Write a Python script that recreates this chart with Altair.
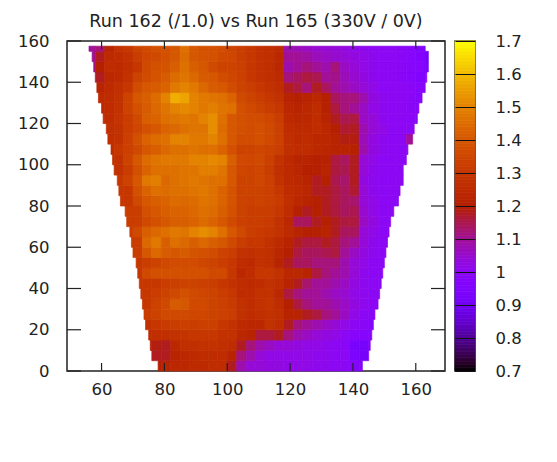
import math
import altair as alt
import pandas as pd

TITLE = "Run 162 (/1.0) vs Run 165 (330V / 0V)"
x_ticks = [60, 80, 100, 120, 140, 160]
y_ticks = [0, 20, 40, 60, 80, 100, 120, 140, 160]
cb_ticks = [0.7, 0.8, 0.9, 1.0, 1.1, 1.2, 1.3, 1.4, 1.5, 1.6, 1.7]
x_start, x_step = 55, 3
y_step = 5
y_top = 157.5

# Detector outline, one entry per row from the bottom (y = 0, 5, ...)
left_edge = [78, 76, 75.5, 75, 74, 73.5, 73, 72.5, 72, 71.5, 71, 70, 69.5, 69, 68, 67.5,
             66, 65.5, 65, 64, 63.5, 63, 62, 61.5, 60.5, 60, 59, 58.5, 58, 57.5, 57, 56]
right_edge = [143, 145, 145.5, 146, 146.5, 147, 148, 148.5, 149, 149.5, 150, 150.5, 151, 151.5, 152, 153,
              154.5, 155, 156, 156, 157, 157.5, 159, 159.5, 160.5, 161, 162, 163, 163.5, 164, 164, 163]

# Ratio values x100, columns x = 55, 58, ... 166; rows listed from the bottom up
row_000 = [120,120,120,120,120,120,120,120,122,124,124,125,125,126,126,118,108,104,104,103,103,102,102,102,101,101,100,100, 98, 96, 96, 96,96,96,96,96,96,96]
row_005 = [120,120,120,120,120,120,120,118,118,122,124,125,126,126,126,122,112,108,104,102,102,102,102,102,101,101,100,100, 94, 92, 96, 96,96,96,96,96,96,96]
row_010 = [120,120,120,120,120,120,120,119,118,124,127,127,128,128,127,126,118,112,108,106,104,104,103,102,102,101,100, 99, 93, 92, 96, 96,96,96,96,96,96,96]
row_015 = [126,126,126,126,126,126,126,127,127,128,129,130,130,130,128,128,124,122,116,116,118,112,108,106,104,103,102,100, 98, 97, 98, 98,98,98,98,98,98,98]
row_020 = [128,128,128,128,128,128,128,130,131,132,133,132,133,133,130,128,125,124,124,128,126,118,112,110,108,106,104,102,100, 99, 98, 98,98,98,98,98,98,98]
row_025 = [130,130,130,130,130,130,132,134,136,136,136,135,135,134,133,132,128,126,127,128,127,122,122,118,116,112,110,106,102,100, 99, 99,99,99,99,99,99,99]
row_030 = [130,130,130,130,130,130,130,134,136,141,140,136,136,134,133,131,128,126,128,129,126,120,116,112,110,110,108,106,103,101,100, 99,99,99,99,99,99,99]
row_035 = [130,130,130,130,130,130,130,132,134,136,138,136,135,134,132,130,126,126,128,128,124,116,112,110,110,108,106,105,102,101,100, 99,99,99,99,99,99,99]
row_040 = [130,130,130,130,130,130,130,130,132,133,134,134,133,132,130,128,126,125,126,128,126,122,118,113,110,110,108,106,103,101,100,100,100,100,100,100,100,100]
row_045 = [130,130,130,130,130,130,136,138,138,138,138,138,138,136,136,130,124,126,130,130,128,124,124,122,116,112,110,108,104,101,100,100,100,100,100,100,100,100]
row_050 = [130,130,130,130,130,130,132,134,136,137,137,137,135,134,132,130,126,125,128,127,122,118,114,114,112,112,112,108,104,102,100,100,100,100,100,100,100,100]
row_055 = [132,132,132,132,132,132,140,144,141,140,141,139,138,137,134,132,128,127,128,127,123,120,116,114,114,115,116,110,106,103,101,100,100,100,100,100,100,100]
row_060 = [132,132,132,132,132,132,144,148,142,146,144,142,144,142,140,136,132,130,130,128,125,122,118,116,116,118,116,112,110,104,101,100,100,100,100,100,100,100]
row_065 = [132,132,132,132,132,136,142,144,146,148,147,150,152,150,146,140,136,132,131,130,128,125,122,120,120,122,118,114,114,104,102,100,100,100,100,100,100,100]
row_070 = [132,132,132,132,132,132,136,138,140,142,142,143,145,143,140,136,133,132,132,131,128,124,114,114,118,120,118,116,116,106,103,100,100,100,100,100,100,100]
row_075 = [132,132,132,132,132,132,138,140,142,143,143,144,146,145,142,138,134,132,132,132,130,126,120,118,120,118,116,114,115,105,102,100,100,100,100,100,100,100]
row_080 = [130,130,130,130,130,136,140,142,143,145,144,145,147,146,143,139,134,133,134,133,131,127,124,122,120,118,116,114,113,104,102,100,100,100,100,100,100,100]
row_085 = [130,130,130,130,130,138,143,146,145,146,146,147,148,146,143,139,134,134,134,133,130,126,125,123,118,118,116,114,117,104,101,100,100,100,100,100,100,100]
row_090 = [130,130,130,130,134,140,148,149,144,146,147,148,147,146,146,140,134,134,135,133,128,125,124,122,118,120,115,113,118,103,101,100,100,100,100,110,100,100]
row_095 = [128,128,128,128,132,138,143,146,146,146,147,147,149,149,147,140,135,134,135,132,127,125,123,120,120,122,116,115,118,104,101,100,100,100,100,110,100,100]
row_100 = [128,128,128,128,134,140,145,147,148,148,148,150,150,151,150,142,136,135,136,133,128,125,122,122,120,121,116,114,118,104,102,100,100,100,100,100,100,100]
row_105 = [126,126,126,130,133,136,140,142,144,146,146,147,146,146,143,138,134,134,135,134,132,127,126,126,124,123,122,122,121,108,103,101,100,100, 99,100,100,100]
row_110 = [126,126,127,128,133,138,143,145,146,150,150,148,148,150,146,140,137,137,138,136,133,127,125,126,124,124,122,119,119,107,103,101,100,100,110,100,96,90]
row_115 = [125,126,127,128,132,135,138,140,143,144,146,147,147,152,145,140,138,137,138,136,133,126,125,125,126,124,120,117,118,108,104,102,100,100,100,100,96,90]
row_120 = [125,125,126,129,132,136,142,143,146,147,148,147,150,152,146,140,138,137,137,135,132,125,123,124,126,122,118,115,116,106,104,101,100,100, 99, 99,96,90]
row_125 = [124,125,126,128,134,138,141,144,147,150,151,150,148,149,147,146,138,136,134,132,130,124,122,124,126,121,116,112,110,106,102,101,100,100, 99, 99,96,90]
row_130 = [124,125,126,128,134,140,142,145,150,158,156,150,148,147,146,143,136,134,132,130,128,122,120,122,124,120,114,112,112,108,103,101,100,100, 99, 98,96,90]
row_135 = [120,122,125,127,130,137,140,141,143,148,150,148,144,141,140,137,134,132,130,128,126,118,116,112,118,114,110,108,106,104,102,100,100,100, 99, 98,96,90]
row_140 = [110,118,124,125,128,134,137,139,141,145,147,144,141,140,137,135,133,130,128,127,125,112,114,116,115,110,111,107,105,103,101,100,100, 99, 98, 96,95,90]
row_145 = [110,120,126,125,127,130,136,138,139,142,146,142,140,136,134,134,133,130,128,127,124,108,110,112,110,108,112,106,104,102,101,100,100, 99, 98, 97,92,90]
row_150 = [110,118,125,126,128,132,135,136,138,140,145,140,139,138,136,135,132,130,128,127,124,110,110,109,107,106,105,104,103,102,101,100,100, 99, 98, 96,91,90]
row_155 = [110,112,122,128,130,134,136,138,138,140,146,140,138,138,137,134,132,130,128,127,125,108,107,106,105,104,104,103,102,101,100,100,100, 99, 98, 96,92,90]

rows = [row_000, row_005, row_010, row_015, row_020, row_025, row_030, row_035,
        row_040, row_045, row_050, row_055, row_060, row_065, row_070, row_075,
        row_080, row_085, row_090, row_095, row_100, row_105, row_110, row_115,
        row_120, row_125, row_130, row_135, row_140, row_145, row_150, row_155]

records = []
for j, row in enumerate(rows):
    y0 = j * y_step
    y1 = min(y0 + y_step, y_top)
    for i, v in enumerate(row):
        c0 = x_start + i * x_step
        a = max(c0, left_edge[j])
        b = min(c0 + x_step, right_edge[j])
        if b > a:
            records.append(dict(x0=a, x1=b, y0=y0, y1=y1, v=v / 100))
df = pd.DataFrame(records)


def hexcol(t):
    r = math.sqrt(t)
    g = t ** 3
    b = max(0.0, math.sin(2 * math.pi * t))
    return "#%02x%02x%02x" % (round(r * 255), round(g * 255), round(b * 255))


stops = [i / 40 for i in range(41)]
cscale = alt.Scale(domain=[0.7 + s for s in stops], range=[hexcol(s) for s in stops],
                   interpolate="rgb", clamp=True)
color = alt.Color("v:Q", legend=None, scale=cscale)
stroke = alt.Stroke("v:Q", legend=None, scale=cscale)
FONT = "DejaVu Sans"
LABEL = 16.5
W, H = 378, 330
xs = alt.Scale(domain=[49, 169.3], nice=False, zero=False)
ys = alt.Scale(domain=[0, 160], nice=False, zero=False)
TICK = "#222222"

heat = alt.Chart(df).mark_rect(strokeWidth=0.7).encode(
    x=alt.X("x0:Q", scale=xs, title=None,
            axis=alt.Axis(values=x_ticks, tickSize=0, grid=False, domain=False, labelFont=FONT,
                          labelFontSize=LABEL, labelColor="#222222", labelPadding=10, labelFlush=False)),
    x2="x1:Q",
    y=alt.Y("y0:Q", scale=ys, title=None,
            axis=alt.Axis(values=y_ticks, tickSize=0, grid=False, domain=False, labelFont=FONT,
                          labelFontSize=LABEL, labelColor="#222222", labelPadding=18)),
    y2="y1:Q",
    color=color,
    stroke=stroke,
)
xt = pd.DataFrame({"x": x_ticks})
yt = pd.DataFrame({"y": y_ticks})
tb = alt.Chart(xt).mark_rule(color=TICK, strokeWidth=1.2).encode(
    x=alt.X("x:Q", scale=xs), y=alt.value(H), y2=alt.value(H - 8))
tt = alt.Chart(xt).mark_rule(color=TICK, strokeWidth=1.2).encode(
    x=alt.X("x:Q", scale=xs), y=alt.value(0), y2=alt.value(8))
tl = alt.Chart(yt).mark_rule(color=TICK, strokeWidth=1.2).encode(
    y=alt.Y("y:Q", scale=ys), x=alt.value(0), x2=alt.value(14))
tr = alt.Chart(yt).mark_rule(color=TICK, strokeWidth=1.2).encode(
    y=alt.Y("y:Q", scale=ys), x=alt.value(W), x2=alt.value(W - 14))

main = alt.layer(heat, tb, tt, tl, tr).properties(
    width=W, height=H,
    title=alt.TitleParams(TITLE, font=FONT, fontSize=17.5, fontWeight="normal", color="#222222",
                          anchor="middle", offset=3))

ramp = [0.7 + i * 0.01 for i in range(100)]
cb_df = pd.DataFrame({"v": [round(r + 0.005, 3) for r in ramp], "a": ramp, "b": [r + 0.01 for r in ramp]})
cb = alt.Chart(cb_df).mark_rect(strokeWidth=0.7).encode(
    y=alt.Y("a:Q", scale=alt.Scale(domain=[0.7, 1.7], nice=False, zero=False), title=None,
            axis=alt.Axis(orient="right", values=cb_ticks, tickSize=0, grid=True, gridColor="#111111",
                          gridWidth=1, gridOpacity=1, domain=False, zindex=1, labelFont=FONT,
                          labelFontSize=LABEL, labelColor="#222222", labelPadding=20,
                          labelExpr="datum.value == 1 ? '1' : format(datum.value, '.1f')")),
    y2="b:Q",
    x=alt.value(0), x2=alt.value(20),
    color=color,
    stroke=stroke,
).properties(width=20, height=H)

chart = alt.hconcat(main, cb, spacing=6).configure_view(
    stroke="#222222", strokeWidth=1.5).properties(padding=dict(left=8, top=3, right=5, bottom=5))

chart.save("out.html", embed_options={"renderer": "svg", "actions": False})
